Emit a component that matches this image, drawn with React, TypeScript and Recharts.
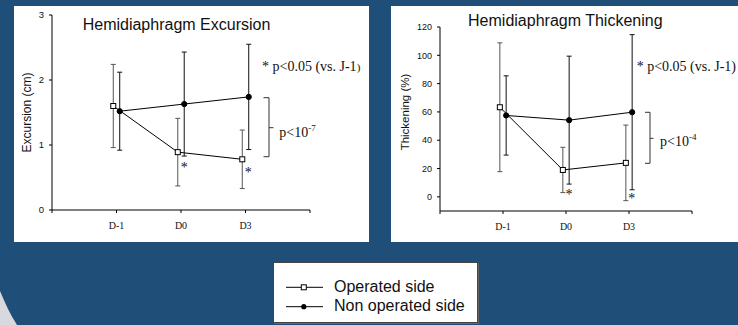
import React from 'react';
import { LineChart, Line, XAxis, YAxis, ErrorBar } from 'recharts';

// ---------- data ----------
const categories = ['D-1', 'D0', 'D3'];

const excursionOperated = [1.6, 0.89, 0.78];
const excursionOperatedSd = [0.64, 0.52, 0.45];
const excursionNonOperated = [1.52, 1.63, 1.74];
const excursionNonOperatedSd = [0.6, 0.8, 0.81];

const thickeningOperated = [63.3, 19, 24];
const thickeningOperatedSd = [45.5, 16, 26.7];
const thickeningNonOperated = [57.5, 54.2, 59.8];
const thickeningNonOperatedSd = [28, 45.2, 54.8];

const excursionTicks = [0, 1, 2, 3];
const thickeningTicks = [0, 20, 40, 60, 80, 100, 120];
const categoryTicks = [0, 1, 2, 3, 4];

const legendItems = ['Operated side', 'Non operated side'];

// small horizontal offset so the two series do not overlap (in category units)
const SHIFT = 0.05;

const build = (vals: number[], sds: number[], shift: number) =>
  vals.map((v, i) => ({ x: i + 1 + shift, y: v, err: sds[i] }));

const BLUE = '#1f4e79';
const SANS = 'Liberation Sans, Arial, sans-serif';
const SERIF = 'Liberation Serif, Times New Roman, serif';
const STAR = '*\uFE0E';

const SquareDot = (props: any) => {
  const { cx, cy, index } = props;
  if (cx == null || cy == null) return <g key={`s${index}`} />;
  return (
    <rect key={`s${index}`} x={cx - 2.5} y={cy - 2.5} width={5} height={5} fill="#fff" stroke="#000" strokeWidth={1} />
  );
};

const CircleDot = (props: any) => {
  const { cx, cy, index } = props;
  if (cx == null || cy == null) return <g key={`c${index}`} />;
  return <circle key={`c${index}`} cx={cx} cy={cy} r={2.6} fill="#000" stroke="#000" />;
};

const fmtCat = (v: number) => categories[v - 1] ?? '';

type PanelProps = {
  width: number;
  height: number;
  margin: { top: number; right: number; bottom: number; left: number };
  yWidth: number;
  xHeight: number;
  yDomain: [number, number];
  yTicks: number[];
  yFont: number;
  op: number[];
  opSd: number[];
  non: number[];
  nonSd: number[];
};

function Panel(p: PanelProps) {
  const opData = build(p.op, p.opSd, -SHIFT);
  const nonData = build(p.non, p.nonSd, SHIFT);
  return (
    <LineChart width={p.width} height={p.height} margin={p.margin}>
      <XAxis
        type="number"
        dataKey="x"
        domain={[0, 4]}
        ticks={categoryTicks}
        tickFormatter={fmtCat}
        allowDataOverflow
        height={p.xHeight}
        stroke="#000"
        tickSize={3}
        tickMargin={9}
        tick={{ fontFamily: SERIF, fontSize: 10, fill: '#111' }}
      />
      <YAxis
        type="number"
        dataKey="y"
        domain={p.yDomain}
        ticks={p.yTicks}
        allowDataOverflow
        width={p.yWidth}
        stroke="#000"
        tickSize={3}
        tickMargin={5}
        tick={{ fontFamily: SANS, fontSize: p.yFont, fill: '#111' }}
      />
      <Line
        data={opData}
        dataKey="y"
        stroke="#000"
        strokeWidth={1}
        dot={SquareDot}
        isAnimationActive={false}
      >
        <ErrorBar dataKey="err" direction="y" width={2.5} stroke="#555" strokeWidth={1} />
      </Line>
      <Line
        data={nonData}
        dataKey="y"
        stroke="#000"
        strokeWidth={1}
        dot={CircleDot}
        isAnimationActive={false}
      >
        <ErrorBar dataKey="err" direction="y" width={2.5} stroke="#111" strokeWidth={1} />
      </Line>
    </LineChart>
  );
}

export default function App() {
  return (
    <div
      style={{
        position: 'absolute',
        left: 0,
        top: 0,
        width: 738,
        height: 325,
        background: BLUE,
        overflow: 'hidden',
      }}
    >
      <svg width={738} height={325} style={{ position: 'absolute', left: 0, top: 0 }}>
        <path d="M0,291 C5,303 10,314 17,325 L0,325 Z" fill="#d7d9de" />
      </svg>

      {/* left panel */}
      <div style={{ position: 'absolute', left: 14, top: 6, width: 355, height: 236, background: '#fff' }}>
        <Panel
          width={355}
          height={236}
          margin={{ top: 9, right: 59, bottom: 0, left: 0 }}
          yWidth={38}
          xHeight={32}
          yDomain={[0, 3]}
          yTicks={excursionTicks}
          yFont={9.5}
          op={excursionOperated}
          opSd={excursionOperatedSd}
          non={excursionNonOperated}
          nonSd={excursionNonOperatedSd}
        />
      </div>

      {/* right panel */}
      <div style={{ position: 'absolute', left: 391, top: 6, width: 347, height: 236, background: '#fff' }}>
        <Panel
          width={347}
          height={236}
          margin={{ top: 21, right: 46, bottom: 0, left: 0 }}
          yWidth={49}
          xHeight={31}
          yDomain={[-10, 120]}
          yTicks={thickeningTicks}
          yFont={9}
          op={thickeningOperated}
          opSd={thickeningOperatedSd}
          non={thickeningNonOperated}
          nonSd={thickeningNonOperatedSd}
        />
      </div>

      {/* annotations */}
      <svg
        width={738}
        height={325}
        style={{ position: 'absolute', left: 0, top: 0, pointerEvents: 'none' }}
      >
        <text x={176.5} y={30} textAnchor="middle" fontFamily={SANS} fontSize={16} fill="#111">
          Hemidiaphragm Excursion
        </text>
        <text x={565.3} y={26} textAnchor="middle" fontFamily={SANS} fontSize={16} fill="#111">
          Hemidiaphragm Thickening
        </text>
        <text
          x={27}
          y={112.5}
          transform="rotate(-90 27 112.5)"
          textAnchor="middle"
          dominantBaseline="central"
          fontFamily={SANS}
          fontSize={12}
          fill="#111"
        >
          Excursion (cm)
        </text>
        <text
          x={405}
          y={112}
          transform="rotate(-90 405 112)"
          textAnchor="middle"
          dominantBaseline="central"
          fontFamily={SANS}
          fontSize={11.5}
          fill="#111"
        >
          Thickening (%)
        </text>

        <text x={262} y={71} fontFamily={SERIF} fontSize={14} fill="#111">
          {STAR} p&lt;0.05 (vs. J-1<tspan fontSize={11}>)</tspan>
        </text>
        <text x={636.7} y={71} fontFamily={SERIF} fontSize={14} fill="#111">
          {STAR} p&lt;0.05 (vs. J-1)
        </text>

        <path d="M263.5,97.7 H269 V156.7 H263.5 M269,127.7 H273.5" fill="none" stroke="#333" strokeWidth={1} />
        <text x={279.3} y={137.3} fontFamily={SERIF} fontSize={14} fill="#111">
          p&lt;10<tspan fontSize={9} dy={-6}>-7</tspan>
        </text>
        <path d="M645,112.3 H650 V163.3 H645 M650,138.3 H653.5" fill="none" stroke="#333" strokeWidth={1} />
        <text x={660} y={146} fontFamily={SERIF} fontSize={14} fill="#111">
          p&lt;10<tspan fontSize={9} dy={-6}>-4</tspan>
        </text>

        <text x={184.3} y={171.5} textAnchor="middle" fontFamily={SERIF} fontSize={14} fill="#111">{STAR}</text>
        <text x={248.3} y={176.5} textAnchor="middle" fontFamily={SERIF} fontSize={14} fill="#111">{STAR}</text>
        <text x={569} y={199} textAnchor="middle" fontFamily={SERIF} fontSize={14} fill="#111">{STAR}</text>
        <text x={631.7} y={203} textAnchor="middle" fontFamily={SERIF} fontSize={14} fill="#111">{STAR}</text>
      </svg>

      {/* legend */}
      <div
        style={{
          position: 'absolute',
          left: 273,
          top: 262,
          width: 203,
          height: 59,
          background: '#fff',
          border: '1px solid #444',
          boxShadow: '1px 1px 0 #666',
        }}
      >
        <svg width={203} height={59}>
          {legendItems.map((label, i) => {
            const cy = 24.3 + i * 19.4;
            return (
              <g key={label}>
                <line x1={12} x2={49} y1={cy} y2={cy} stroke="#000" strokeWidth={1} />
                {i === 0 ? (
                  <rect x={27.3} y={cy - 2.5} width={5} height={5} fill="#fff" stroke="#000" />
                ) : (
                  <circle cx={29.8} cy={cy} r={2.6} fill="#000" />
                )}
                <text x={60} y={cy + 4.6} fontFamily={SANS} fontSize={16} fill="#111">
                  {label}
                </text>
              </g>
            );
          })}
        </svg>
      </div>
    </div>
  );
}
